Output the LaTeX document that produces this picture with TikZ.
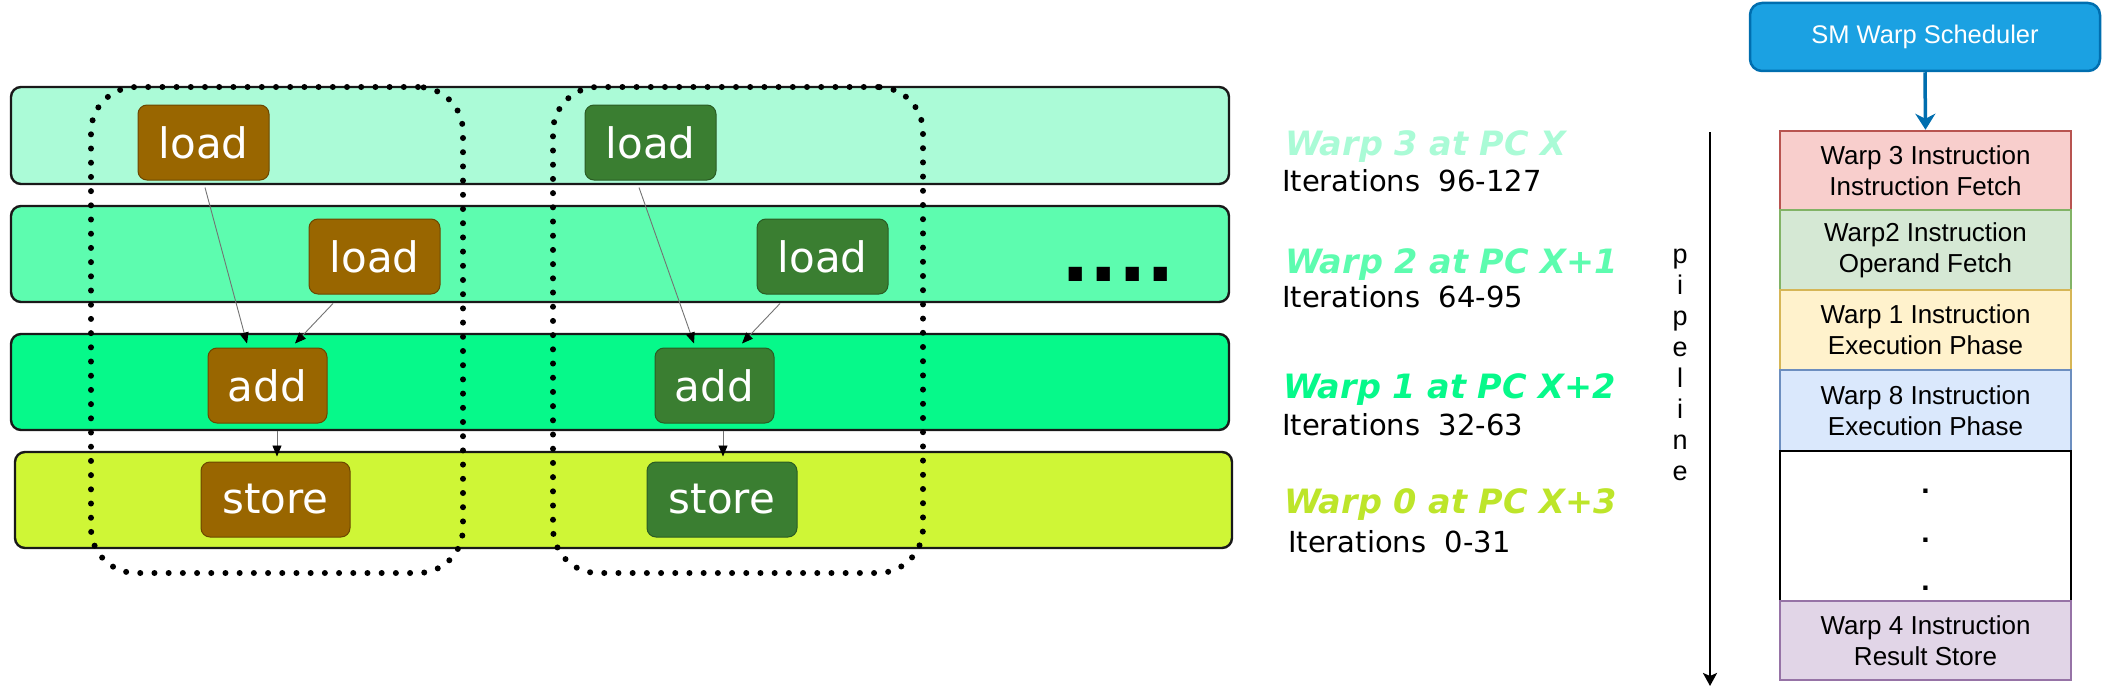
\documentclass[tikz,border=0pt]{standalone}
\usepackage{fontspec}
\setmainfont{DejaVu Sans}
\newfontfamily\lib{Liberation Sans}
\usetikzlibrary{arrows.meta,calc}
\definecolor{bandA}{HTML}{ABFBD7}
\definecolor{bandB}{HTML}{5DFCAF}
\definecolor{bandC}{HTML}{06F98A}
\definecolor{bandD}{HTML}{CFF636}
\definecolor{labA}{HTML}{AAFBD6}
\definecolor{labB}{HTML}{5DFCAF}
\definecolor{labC}{HTML}{06F98A}
\definecolor{labD}{HTML}{BDE52A}
\definecolor{brownbox}{HTML}{996600}
\definecolor{browndark}{HTML}{6B4700}
\definecolor{greenbox}{HTML}{3A7E31}
\definecolor{greendark}{HTML}{2A5C24}
\definecolor{smfill}{HTML}{1BA1E2}
\definecolor{smdraw}{HTML}{006EAF}
\definecolor{redf}{HTML}{F8CECC}\definecolor{redd}{HTML}{B85450}
\definecolor{grnf}{HTML}{D5E8D4}\definecolor{grnd}{HTML}{82B366}
\definecolor{yelf}{HTML}{FFF2CC}\definecolor{yeld}{HTML}{D6B656}
\definecolor{bluf}{HTML}{DAE8FC}\definecolor{blud}{HTML}{6C8EBF}
\definecolor{purf}{HTML}{E1D5E7}\definecolor{purd}{HTML}{9673A6}
\begin{document}
\begin{tikzpicture}[x=1pt,y=-1pt,
  band/.style={draw=black!90, line width=2.4pt, rounded corners=10pt, inner sep=0pt, minimum height=96pt},
  grp/.style={draw=black, line width=6pt, line cap=round, dash pattern=on 0pt off 14.2pt, rounded corners=45pt, inner sep=0pt},
  opbox/.style={rounded corners=9pt, line width=1pt, inner sep=0pt, minimum height=75pt, text=white,
     font=\fontsize{42}{48}\selectfont},
  brownop/.style={opbox, fill=brownbox, draw=browndark},
  greenop/.style={opbox, fill=greenbox, draw=greendark},
  dep/.style={draw=black!55, line width=0.9pt, -{Triangle[length=11pt,width=9pt,color=black,fill=black]}},
  warplab/.style={anchor=base west, inner sep=0pt, font=\fontsize{33.5}{38}\selectfont\bfseries\itshape},
  iterlab/.style={anchor=base west, inner sep=0pt, font=\fontsize{29}{34}\selectfont, text=black},
  stage/.style={line width=2.5pt, minimum width=291pt, inner sep=0pt, align=center,
     font=\lib\fontsize{26}{31}\selectfont},
]
\useasboundingbox (0,0) rectangle (2102,693);

% warp bands
\node[band, fill=bandA, minimum width=1218pt, minimum height=97pt] (r3) at (620,135.5) {};
\node[band, fill=bandB, minimum width=1218pt] (r2) at (620,254) {};
\node[band, fill=bandC, minimum width=1218pt] (r1) at (620,382) {};
\node[band, fill=bandD, minimum width=1217pt] (r0) at (623.5,500) {};

% dotted groups
\node[grp, minimum width=372pt, minimum height=486pt] (g1) at (277,330) {};
\node[grp, minimum width=370pt, minimum height=486pt] (g2) at (738,330) {};

% operation boxes
\node[brownop, minimum width=131pt] (bl1) at (203.5,142.5) {load};
\node[brownop, minimum width=131pt] (bl2) at (374.5,256.5) {load};
\node[brownop, minimum width=119pt] (ba) at (267.5,385.5) {add};
\node[brownop, minimum width=149pt] (bs) at (275.5,499.5) {store};
\node[greenop, minimum width=131pt] (gl1) at (650.5,142.5) {load};
\node[greenop, minimum width=131pt] (gl2) at (822.5,256.5) {load};
\node[greenop, minimum width=119pt] (ga) at (714.5,385.5) {add};
\node[greenop, minimum width=150pt] (gs) at (722,499.5) {store};

% dependencies
\draw[dep] ($(bl1.south)+(1.5,7)$) -- ($(ba.north)+(-20.5,-4)$);
\draw[dep] ($(bl2.south)+(-41.5,9)$) -- ($(ba.north)+(27.5,-4)$);
\draw[dep] ($(ba.south)+(9.5,7)$) -- ($(bs.north)+(1.5,-5)$);
\draw[dep] ($(gl1.south)+(-11.5,7)$) -- ($(ga.north)+(-20.5,-4)$);
\draw[dep] ($(gl2.south)+(-42.5,9)$) -- ($(ga.north)+(27.5,-4)$);
\draw[dep] ($(ga.south)+(8.5,7)$) -- ($(gs.north)+(1,-5)$);

% ellipsis
\node[anchor=base, inner sep=0pt, font=\fontsize{75}{80}\selectfont\bfseries] (more) at (1118,281) {....};

% warp labels
\node[warplab, text=labA] (w3) at (1285,155) {Warp 3 at PC X};
\node[iterlab] (i3) at (1282,191) {Iterations\ \ 96-127};
\node[warplab, text=labB] (w2) at (1285,273) {Warp 2 at PC X+1};
\node[iterlab] (i2) at (1282,307) {Iterations\ \ 64-95};
\node[warplab, text=labC] (w1) at (1283,398) {Warp 1 at PC X+2};
\node[iterlab] (i1) at (1282,435) {Iterations\ \ 32-63};
\node[warplab, text=labD] (w0) at (1284,513) {Warp 0 at PC X+3};
\node[iterlab] (i0) at (1288,552) {Iterations\ \ 0-31};

% pipeline arrow
\coordinate (ptop) at (1710,132);
\coordinate (pbot) at (1710,686);
\draw[line width=2.5pt, -{Stealth[length=13pt,width=14pt,inset=3pt]}] (ptop) -- (pbot);
\node[anchor=north, inner sep=0pt, align=center, font=\lib\fontsize{27}{31}\selectfont] (plab) at (1680,249) {p\\i\\p\\e\\l\\i\\n\\e};

% scheduler
\node[draw=smdraw, fill=smfill, line width=2.5pt, rounded corners=12pt, minimum width=350pt, minimum height=68pt,
      inner sep=0pt, text=white, font=\lib\fontsize{25.5}{30}\selectfont] (sm) at (1925,37) {SM Warp Scheduler};

% pipeline stages
\node[stage, draw=redd, fill=redf, minimum height=79pt] (s1) at (1925.5,170.5) {Warp 3 Instruction\\Instruction Fetch};
\node[stage, draw=grnd, fill=grnf, minimum height=80pt] (s2) at (1925.5,250) {Warp2 Instruction\\Operand Fetch};
\node[stage, draw=yeld, fill=yelf, minimum height=80pt] (s3) at (1925.5,330) {Warp 1 Instruction\\Execution Phase};
\node[stage, draw=blud, fill=bluf, minimum height=81pt] (s4) at (1925.5,410.5) {Warp 8 Instruction\\Execution Phase};
\node[stage, draw=black, fill=white, minimum height=150pt] (s5) at (1925.5,526) {};
\node[stage, draw=purd, fill=purf, minimum height=79pt] (s6) at (1925.5,640.5) {Warp 4 Instruction\\Result Store};
\node[inner sep=0pt, align=center, font=\lib\fontsize{30}{48.5}\selectfont\bfseries] (s5t) at ($(s5.center)+(0,14)$) {.\\.\\.};

\draw[draw=smdraw, line width=3.5pt, -{Stealth[length=16pt,width=20pt,inset=5pt]}] (sm.south) -- (s1.north);
\end{tikzpicture}
\end{document}
